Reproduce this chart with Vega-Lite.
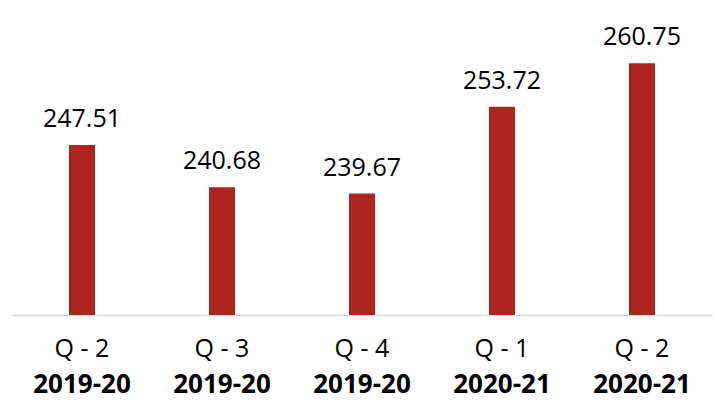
{
  "$schema": "https://vega.github.io/schema/vega-lite/v6.json",
  "width": 700,
  "height": 315,
  "autosize": {"type": "none"},
  "padding": {"left": 12, "top": 0, "right": 5, "bottom": 90},
  "background": "white",
  "config": {"view": {"stroke": null}, "font": "Open Sans"},
  "data": {
    "values": [
      {"key": "Q - 2|2019-20", "value": 247.51},
      {"key": "Q - 3|2019-20", "value": 240.68},
      {"key": "Q - 4|2019-20", "value": 239.67},
      {"key": "Q - 1|2020-21", "value": 253.72},
      {"key": "Q - 2|2020-21", "value": 260.75}
    ]
  },
  "layer": [
    {
      "mark": {"type": "bar", "color": "#B0241F", "size": 26, "clip": true},
      "encoding": {
        "x": {
          "field": "key", "type": "nominal", "sort": null,
          "scale": {"paddingInner": 0, "paddingOuter": 0},
          "axis": {
            "title": null, "orient": "bottom", "ticks": false, "labelAngle": 0,
            "domainColor": "#d9d9d9", "domainWidth": 1.5,
            "labelExpr": "split(datum.label, '|')[0]",
            "labelFontSize": 25, "labelColor": "#000000", "labelFont": "Open Sans",
            "labelBaseline": "top", "labelPadding": 21
          }
        },
        "y": {
          "field": "value", "type": "quantitative",
          "scale": {"domain": [220, 271], "zero": false, "nice": false},
          "axis": null
        }
      }
    },
    {
      "mark": {"type": "text", "fontSize": 25, "dy": -18, "baseline": "alphabetic", "color": "#000000", "font": "Open Sans"},
      "encoding": {
        "x": {
          "field": "key", "type": "nominal", "sort": null,
          "axis": {
            "title": null, "orient": "bottom", "ticks": false, "domain": false, "labelAngle": 0,
            "labelExpr": "split(datum.label, '|')[1]",
            "labelFontSize": 26, "labelFontWeight": "bold", "labelColor": "#000000", "labelFont": "Open Sans",
            "labelBaseline": "top", "labelPadding": 56
          }
        },
        "y": {"field": "value", "type": "quantitative"},
        "text": {"field": "value", "type": "quantitative", "format": ".2f"}
      }
    }
  ],
  "resolve": {"axis": {"x": "independent"}}
}
